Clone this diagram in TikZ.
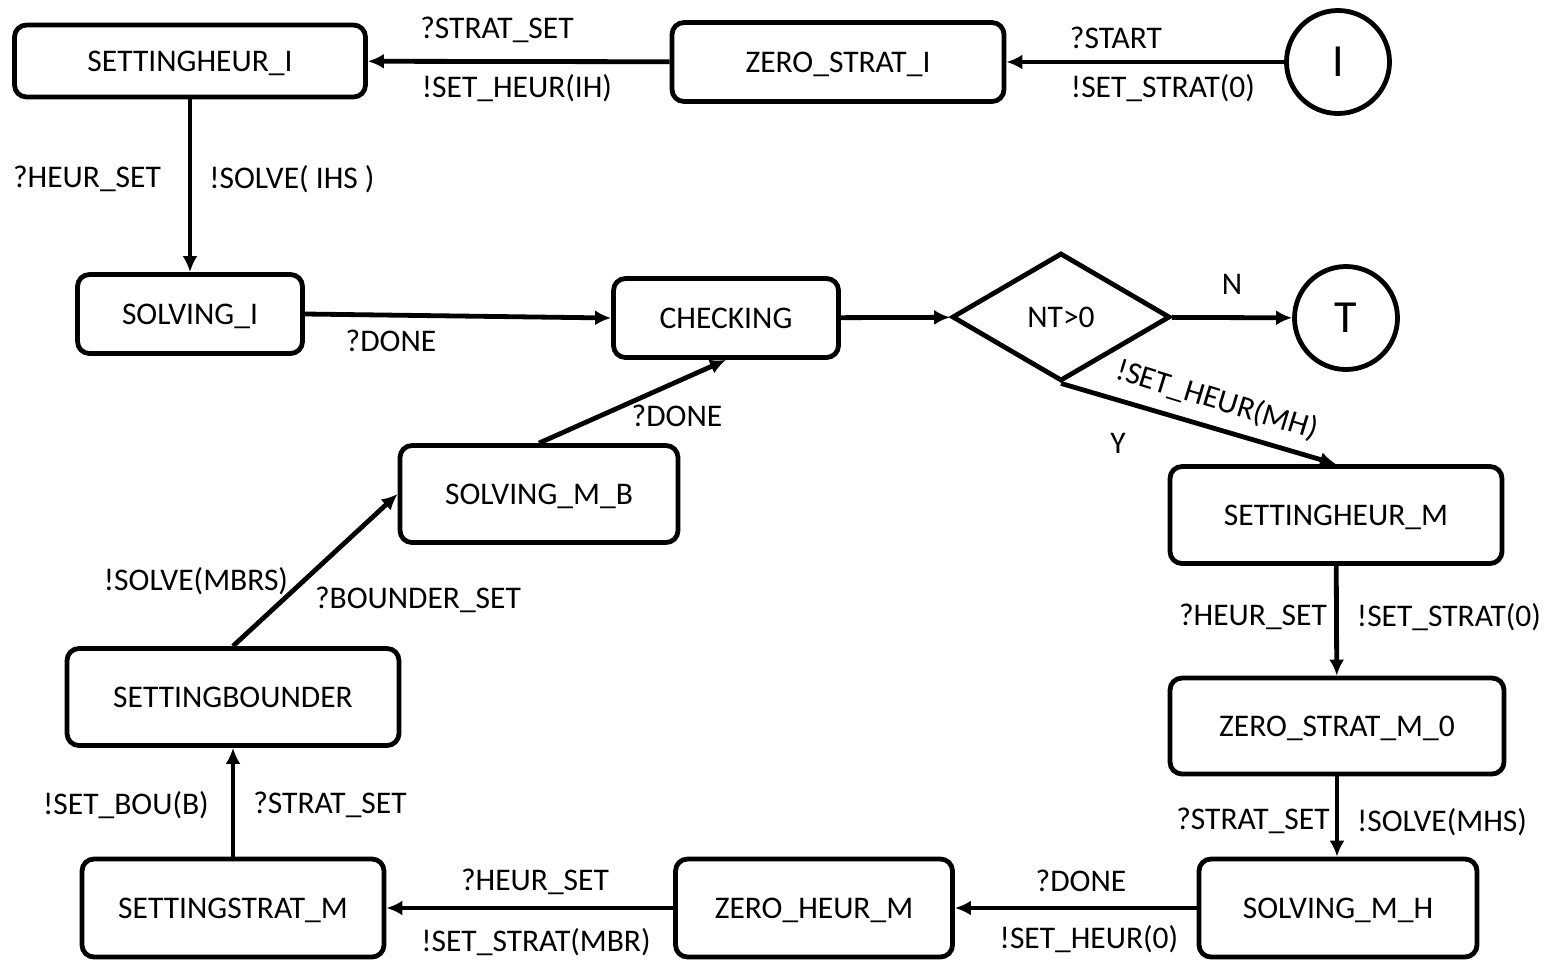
\documentclass[tikz,border=0pt]{standalone}
\usepackage{fontspec}
\setmainfont{Carlito}
\usetikzlibrary{shapes.geometric,arrows.meta}
\begin{document}
\begin{tikzpicture}[x=1pt,y=-1pt,
  every node/.style={font=\fontsize{31.5}{33}\selectfont, inner sep=0pt},
  stbox/.style={draw, line width=4.8pt, rounded corners=12pt, text height=20pt, text depth=0pt},
  endc/.style={draw, line width=4.8pt, circle, minimum size=103pt, font=\fontsize{46}{48}\selectfont, text height=29pt, text depth=0pt},
  conn/.style={line width=4.8pt, -{Latex[length=16pt,width=15pt]}},
]
\useasboundingbox (0,0) rectangle (1556,959);
% states
\node[stbox, minimum width=351pt, minimum height=72pt] (shi) at (190,61) {SETTINGHEUR\_I};
\node[stbox, minimum width=332pt, minimum height=79pt] (zsi) at (838,62) {ZERO\_STRAT\_I};
\node[endc] (ini) at (1338,62) {I};
\node[stbox, minimum width=225pt, minimum height=79pt] (si) at (190,314) {SOLVING\_I};
\node[stbox, minimum width=225pt, minimum height=79pt] (chk) at (726,318) {CHECKING};
\node[draw, diamond, line width=4.8pt, minimum width=218pt, minimum height=128pt, aspect=1.7, text height=20pt, text depth=0pt] (dec) at (1061,317) {NT>0};
\node[endc] (term) at (1346,318) {T};
\node[stbox, minimum width=278pt, minimum height=97pt] (smb) at (539,494) {SOLVING\_M\_B};
\node[stbox, minimum width=332pt, minimum height=97pt] (shm) at (1336,515) {SETTINGHEUR\_M};
\node[stbox, minimum width=332pt, minimum height=97pt] (sb) at (233,697) {SETTINGBOUNDER};
\node[stbox, minimum width=334pt, minimum height=96pt] (zsm) at (1337,726) {ZERO\_STRAT\_M\_0};
\node[stbox, minimum width=302pt, minimum height=98pt] (ssm) at (233,908) {SETTINGSTRAT\_M};
\node[stbox, minimum width=277pt, minimum height=98pt] (zhm) at (814,908) {ZERO\_HEUR\_M};
\node[stbox, minimum width=278pt, minimum height=98pt] (smh) at (1338,908) {SOLVING\_M\_H};
% connectors
\draw[conn] (ini) -- (zsi);
\draw[conn] (zsi) -- (shi);
\draw[conn] (shi) -- (si);
\draw[conn] (si.east) -- (chk.west);
\draw[conn] (chk) -- (dec);
\draw[conn] (dec) -- (term);
\draw[conn] (dec.south) -- (shm.north);
\draw[conn] (shm) -- (zsm);
\draw[conn] (zsm.south) -- (zsm.south |- smh.north);
\draw[conn] (smh) -- (zhm);
\draw[conn] (zhm) -- (ssm);
\draw[conn] (ssm) -- (sb);
\draw[conn] (sb.north) -- (smb.west);
\draw[conn] (smb.north) -- (chk.south);
% labels
\node (l1) at (1116,38) {?START};
\node (l2) at (1163,88) {!SET\_STRAT(0)};
\node (l3) at (497,30) {?STRAT\_SET};
\node (l4) at (517,88) {!SET\_HEUR(IH)};
\node (l5) at (87,179) {?HEUR\_SET};
\node (l6) at (292,179) {!SOLVE( IHS )};
\node (l7) at (391,341) {?DONE};
\node (l8) at (1232,284) {N};
\node[rotate=-17] (l9) at (1217,400) {!SET\_HEUR(MH)};
\node (l10) at (1118,443) {Y};
\node (l11) at (677,416) {?DONE};
\node (l12) at (196,581) {!SOLVE(MBRS)};
\node (l13) at (418,600) {?BOUNDER\_SET};
\node (l14) at (1253,617) {?HEUR\_SET};
\node (l15) at (1449,617) {!SET\_STRAT(0)};
\node (l16) at (1253,821) {?STRAT\_SET};
\node (l17) at (1442,822) {!SOLVE(MHS)};
\node (l18) at (126,805) {!SET\_BOU(B)};
\node (l19) at (330,805) {?STRAT\_SET};
\node (l20) at (1081,881) {?DONE};
\node (l21) at (1089,939) {!SET\_HEUR(0)};
\node (l22) at (535,882) {?HEUR\_SET};
\node (l23) at (536,942) {!SET\_STRAT(MBR)};
\end{tikzpicture}
\end{document}
